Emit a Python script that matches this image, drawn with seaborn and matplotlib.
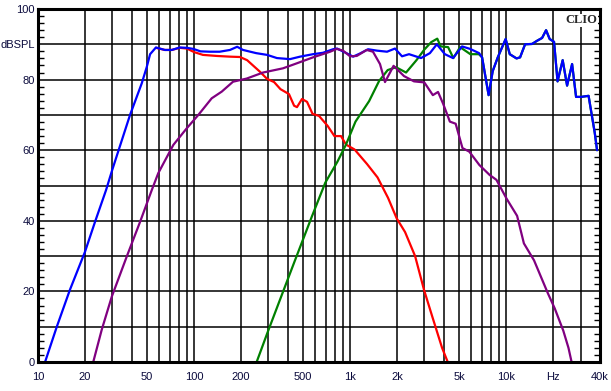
import numpy as np
import pandas as pd
import matplotlib
matplotlib.use('Agg')
import matplotlib.pyplot as plt
import seaborn as sns
from matplotlib.ticker import FixedLocator, FixedFormatter, MultipleLocator

# system response (blue)
blue_freq = [11.1, 13.2, 16, 20, 23.2, 27.3, 29.9, 38.9, 46.2, 49.8, 52.3, 57, 65, 72, 81, 90, 99,
             110, 126, 146, 170, 189, 206, 250, 294, 340, 412, 478, 579, 671, 778, 826, 957,
             1046, 1159, 1305, 1490, 1726, 1941, 2153, 2388, 2851, 3250, 3600, 4053, 4572, 5224,
             5877, 6714, 7020, 7730, 8210, 8850, 9940, 10560, 11670, 12300, 13240, 14680, 15800,
             17020, 18050, 19030, 20300, 21380, 23060, 24610, 26500, 28100, 30270, 33800, 35570,
             37000, 38300]
blue_db = [0, 10, 20.4, 31.2, 39.7, 48.7, 54.4, 70, 78.9, 83.6, 87.2, 89.1, 88.4, 88.4, 89.1, 89, 88.7,
           88, 87.9, 87.9, 88.4, 89.3, 88.4, 87.5, 87, 86.1, 85.8, 86.5, 87.2, 87.6, 88.6, 88.8, 87.4,
           86.5, 87.4, 88.6, 88.2, 87.9, 88.8, 86.6, 87.2, 86.1, 87.5, 90, 87.2, 86.1, 89.4,
           88.7, 87.5, 86.3, 75.6, 82.4, 86.3, 91.5, 87.2, 86, 86.3, 90, 90.1, 91,
           91.8, 94, 91.5, 90.7, 79.5, 85.5, 78.3, 84.4, 75.1, 75.1, 75.4, 69.5,
           65, 60]

# woofer (red)
red_freq = [57, 65, 72, 81, 90, 100, 114, 140, 170, 197, 219, 265, 294, 326, 358, 406, 438, 457,
            492, 530, 575, 633, 718, 794, 875, 942, 1069, 1284, 1500, 1752, 1990, 2253, 2612,
            2981, 3380, 3890, 4228]
red_db = [89, 88.4, 88.4, 89, 88.8, 87.8, 87, 86.7, 86.5, 86.4, 85.5, 82.2, 80.2, 79.3, 77.3, 75.9,
          72.6, 72.2, 74.5, 73.7, 70.3, 69.7, 66.9, 64, 64, 61.6, 60.2, 56.1, 52.3, 46.5, 40.7,
          36.8, 30, 20.4, 12.6, 4, 0]

# midrange (purple)
purple_freq = [22.6, 25.6, 29.7, 37, 45.1, 53.6, 59, 73.7, 89.8, 106.6, 129.8, 150.6, 177.8, 217.7,
               277, 372, 455, 579, 745, 822, 902, 1000, 1104, 1279, 1403, 1556, 1675, 1901, 2217,
               2570, 2993, 3394, 3664, 3947, 4363, 4753, 5255, 5810, 6745, 7840, 8675, 10100,
               11770, 13010, 15110, 18520, 20500, 23260, 25120, 26300]
purple_db = [0, 9.1, 18.5, 29.8, 39.7, 48.7, 53.5, 61.5, 66.2, 70, 74.7, 76.6, 79.4, 80.3,
             82, 83.2, 84.6, 86.3, 87.9, 88.7, 88.2, 86.6, 86.7, 88.4, 87.9, 84.4, 79.3, 83.9, 81,
             79.5, 79.2, 75.6, 76.5, 73.2, 68.1, 67.5, 60.6, 59.6, 55.8, 53, 51.6, 46.2,
             41.4, 33.6, 28.8, 19.5, 15.2, 8.9, 4, 0]

# tweeter (green), follows the system curve above 7 kHz
green_freq = [252, 295, 361, 442, 568, 694, 829, 940, 1084, 1325, 1535, 1743, 1972, 2286, 2665,
              2993, 3311, 3623, 3808, 4250, 4595, 5072, 5905, 6694] + blue_freq[49:]
green_db = [0, 8.2, 18.4, 28.6, 41.1, 50.8, 56.7, 61.5, 68.1, 73.9, 79.6, 82.7, 83.5, 82, 85.5,
            88.5, 90.6, 91.6, 89.4, 89.2, 86.1, 89.2, 87.2, 87.2] + blue_db[49:]

grid_freqs = [10, 20, 30, 40, 50, 60, 70, 80, 90, 100, 200, 300, 400, 500, 600, 700, 800, 900,
              1000, 2000, 3000, 4000, 5000, 6000, 7000, 8000, 9000, 10000, 20000, 30000, 40000]
x_labels = {10: '10', 20: '20', 50: '50', 100: '100', 200: '200', 500: '500', 1000: '1k',
            2000: '2k', 5000: '5k', 10000: '10k', 20000: 'Hz', 40000: '40k'}
grid_db = list(range(0, 101, 10))
y_labels = {0: '0', 20: '20', 40: '40', 60: '60', 80: '80', 90: 'dBSPL', 100: '100'}

sns.set_style('white')
plt.rcParams['font.family'] = ['Liberation Sans', 'DejaVu Sans']

fig = plt.figure(figsize=(6.11, 3.91), dpi=100)
ax = fig.add_axes([38 / 611, 1 - 362 / 391, 562 / 611, 353 / 391])

curves = [(red_freq, red_db, '#ff0000', 3),
          (green_freq, green_db, '#008000', 4),
          (blue_freq, blue_db, '#0000ff', 5),
          (purple_freq, purple_db, '#800080', 6)]
for f, db, color, z in curves:
    df = pd.DataFrame({'freq': f, 'dB': db})
    sns.lineplot(data=df, x='freq', y='dB', color=color, lw=1.6, sort=False,
                 estimator=None, ax=ax, zorder=z)

ax.set_xscale('log')
ax.set_xlim(10, 40000)
ax.set_ylim(0, 100)
ax.set_xlabel('')
ax.set_ylabel('')

label_color = '#0a0a3c'
ax.xaxis.set_major_locator(FixedLocator(grid_freqs))
ax.xaxis.set_major_formatter(FixedFormatter([x_labels.get(g, '') for g in grid_freqs]))
ax.xaxis.set_minor_locator(FixedLocator([]))
ax.yaxis.set_major_locator(FixedLocator(grid_db))
ax.yaxis.set_major_formatter(FixedFormatter([y_labels.get(v, '') for v in grid_db]))
ax.yaxis.set_minor_locator(MultipleLocator(2))

ax.tick_params(axis='x', which='major', length=0, pad=7, labelsize=8, labelcolor=label_color)
ax.tick_params(axis='y', which='major', length=0, pad=2.5, labelsize=8, labelcolor=label_color)
ax.tick_params(axis='y', which='minor', direction='in', length=4, width=1, color='black',
               left=True, right=True)

ax.grid(True, which='major', color='black', lw=1.1)
ax.set_axisbelow(True)
for s in ax.spines.values():
    s.set_visible(True)
    s.set_color('black')
    s.set_linewidth(2.2)
    s.set_zorder(10)

ax.text(0.995, 0.985, 'CLIO', transform=ax.transAxes, ha='right', va='top',
        fontsize=9, fontweight='bold', family=['Liberation Serif', 'DejaVu Serif'], zorder=11,
        bbox=dict(facecolor='white', edgecolor='none', pad=0.5))

fig.savefig('out.png', dpi=100)
